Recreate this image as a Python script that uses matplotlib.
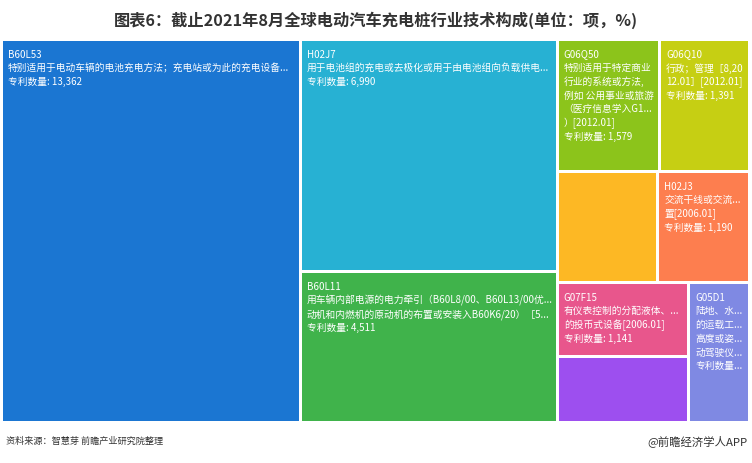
import math
import matplotlib
matplotlib.use('Agg')
import matplotlib.pyplot as plt
from matplotlib.patches import Rectangle

plt.rcParams['font.family'] = ['Noto Sans CJK SC', 'DejaVu Sans']

# data
codes = ['B60L53', 'H02J7', 'B60L11', 'G06Q50', 'G06Q10', '', 'H02J3', 'G07F15', '', 'G05D1']
values = [13362, 6990, 4511, 1579, 1391, 1310, 1190, 1141, 1005, 990]
colors = ['#1b76d2', '#27b1d3', '#40b34b', '#8cc41b', '#c6cf13',
          '#fdb824', '#fd7e4f', '#e8568c', '#9d4fef', '#7f89e3']
labels = [
    ['B60L53', '特别适用于电动车辆的电池充电方法；充电站或为此的充电设备...', '专利数量: 13,362'],
    ['H02J7', '用于电池组的充电或去极化或用于由电池组向负载供电...', '专利数量: 6,990'],
    ['B60L11', '用车辆内部电源的电力牵引（B60L8/00、B60L13/00优...',
     '动机和内燃机的原动机的布置或安装入B60K6/20）［5...', '专利数量: 4,511'],
    ['G06Q50', '特别适用于特定商业', '行业的系统或方法,', '例如 公用事业或旅游',
     '（医疗信息学入G1...', '）[2012.01]', '专利数量: 1,579'],
    ['G06Q10', '行政；管理［8,20', '12.01］[2012.01]', '专利数量: 1,391'],
    [],
    ['H02J3', '交流干线或交流...', '置[2006.01]', '专利数量: 1,190'],
    ['G07F15', '有仪表控制的分配液体、...', '的投币式设备[2006.01]', '专利数量: 1,141'],
    [],
    ['G05D1', '陆地、水...', '的运载工...', '高度或姿...', '动驾驶仪...', '专利数量...'],
]
title = '图表6：截止2021年8月全球电动汽车充电桩行业技术构成(单位：项，%)'
source = '资料来源：智慧芽 前瞻产业研究院整理'
credit = '@前瞻经济学人APP'


def worst(row, fixed, ratio):
    areas = [a for _, a in row]
    s = sum(areas)
    f = fixed * fixed * ratio
    return max(f * max(areas) / (s * s), (s * s) / (f * min(areas)))


def position(row, fixed, rect, half, flush, out):
    x, y, w, h = rect
    horiz = fixed == w
    area = sum(a for _, a in row)
    other = area / fixed if fixed else 0
    lim = h if horiz else w
    if flush or other > lim:
        other = lim
    last = x if horiz else y
    end = (x + w) if horiz else (y + h)
    for k, (i, a) in enumerate(row):
        step = a / other if other else 0
        remain = end - last
        mod = remain if (k == len(row) - 1 or remain < step) else step
        if horiz:
            out[i] = (last + half, y + half, mod - 2 * half, other - 2 * half)
        else:
            out[i] = (x + half, last + half, other - 2 * half, mod - 2 * half)
        last += mod
    if horiz:
        rect = (x, y + other, w, h - other)
    else:
        rect = (x + other, y, w - other, h)
    return rect


def squarify(vals, rect, half=1.5, ratio=0.5 * (1 + math.sqrt(5))):
    x, y, w, h = rect
    tot = sum(vals)
    items = [(i, v / tot * w * h) for i, v in enumerate(vals)]
    out = {}
    row = []
    best = float('inf')
    fixed = min(w, h)
    i = 0
    while i < len(items):
        row.append(items[i])
        score = worst(row, fixed, ratio)
        if score <= best:
            i += 1
            best = score
        else:
            row.pop()
            rect = position(row, fixed, rect, half, False, out)
            fixed = min(rect[2], rect[3])
            row = []
            best = float('inf')
    if row:
        position(row, fixed, rect, half, True, out)
    return out


fig = plt.figure(figsize=(7.52, 4.64), dpi=100)
ax = fig.add_axes([0, 0, 1, 1])
ax.set_xlim(0, 752)
ax.set_ylim(464, 0)
ax.axis('off')

rects = squarify(values, (1.5, 40.5, 748.0, 382.5))
for i in range(len(values)):
    rx, ry, rw, rh = rects[i]
    ax.add_patch(Rectangle((rx, ry), rw, rh, facecolor=colors[i], edgecolor='none'))
    for k, line in enumerate(labels[i]):
        t = ax.text(rx + 5, ry + 12.5 + k * 13.7, line, fontsize=7, color='white',
                    va='center', ha='left')
        t.set_clip_path(Rectangle((rx, ry), rw, rh, transform=ax.transData))

ax.text(376, 20, title, fontsize=11.7, fontweight='bold', color='#333333',
        ha='center', va='center')
ax.text(6, 441, source, fontsize=6.6, color='#333333', ha='left', va='center')
ax.text(748, 441, credit, fontsize=8.2, color='#333333', ha='right', va='center')

fig.savefig('out.png', dpi=100)
